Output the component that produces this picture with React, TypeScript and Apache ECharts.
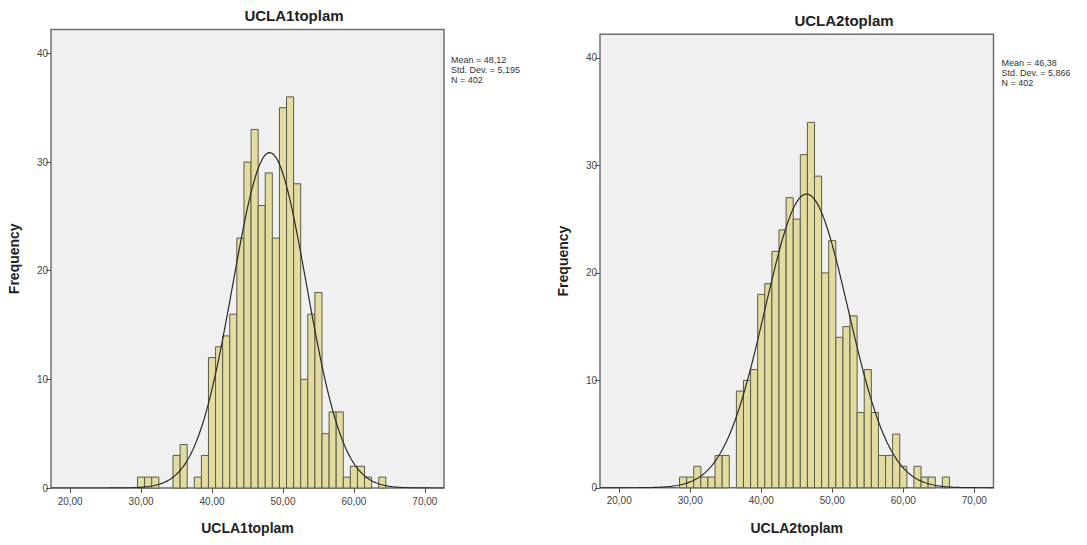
import { useEffect, useRef } from "react";
import * as echarts from "echarts";

// ---- Data ----
const bins1 = [30, 31, 32, 35, 36, 38, 39, 40, 41, 42, 43, 44, 45, 46, 47, 48, 49, 50, 51, 52, 53, 54, 55, 56, 57, 58, 59, 60, 61, 62, 64];
const counts1 = [1, 1, 1, 3, 4, 1, 3, 12, 13, 14, 16, 23, 30, 33, 26, 29, 23, 35, 36, 28, 10, 16, 18, 5, 7, 7, 1, 2, 2, 1, 1];

const bins2 = [29, 30, 31, 32, 33, 34, 35, 37, 38, 39, 40, 41, 42, 43, 44, 45, 46, 47, 48, 49, 50, 51, 52, 53, 54, 55, 56, 57, 58, 59, 60, 62, 63, 64, 66];
const counts2 = [1, 1, 2, 1, 1, 3, 3, 9, 10, 11, 18, 19, 22, 24, 27, 25, 31, 34, 29, 20, 23, 14, 15, 16, 7, 11, 7, 3, 3, 5, 2, 2, 1, 1, 1];

const titles = ["UCLA1toplam", "UCLA2toplam"];
const means = [48.12, 46.38];
const stdDevs = [5.195, 5.866];
const ns = [402, 402];
const meanLabels = ["48,12", "46,38"];
const stdLabels = ["5,195", "5,866"];

const xTicks = [20, 30, 40, 50, 60, 70];
const yTicks = [0, 10, 20, 30, 40];

const X_MIN = 17.3;
const X_MAX = 72.7;
const Y_MAX = 42.2;

// Fitted normal curve defined by the displayed Mean / Std. Dev. / N (bin width 1)
function normalCurve(mean: number, sd: number, n: number): number[][] {
  const pts: number[][] = [];
  for (let x = X_MIN; x <= X_MAX + 1e-9; x += 0.2) {
    const z = (x - mean) / sd;
    pts.push([x, (n / (sd * Math.sqrt(2 * Math.PI))) * Math.exp(-0.5 * z * z)]);
  }
  return pts;
}

const FONT = "'Liberation Sans', Arial, sans-serif";

export default function App() {
  const ref = useRef<HTMLDivElement>(null);

  useEffect(() => {
    if (!ref.current) return;
    const chart = echarts.init(ref.current, null, { renderer: "svg" });

    const grids = [
      { left: 51, top: 29.5, width: 393, height: 458.5 },
      { left: 600, top: 34.3, width: 393.5, height: 453.5 },
    ];

    const histData = [
      bins1.map((b, i) => [b, counts1[i]]),
      bins2.map((b, i) => [b, counts2[i]]),
    ];

    const option: any = {
      animation: false,
      backgroundColor: "#ffffff",
      textStyle: { fontFamily: FONT },
      grid: grids.map((g) => ({
        ...g,
        show: true,
        backgroundColor: "#f0f0f0",
        borderColor: "#6f6f6f",
        borderWidth: 1.5,
      })),
      xAxis: [0, 1].map((i) => ({
        type: "value",
        gridIndex: i,
        min: X_MIN,
        max: X_MAX,
        name: titles[i],
        nameLocation: "middle",
        nameGap: 33,
        nameTextStyle: { fontSize: 14, fontWeight: "bold", color: "#222", fontFamily: FONT },
        axisLine: { show: false },
        axisTick: { show: true, customValues: xTicks, length: 5, lineStyle: { color: "#555" } },
        axisLabel: {
          customValues: xTicks,
          fontSize: 10,
          color: "#444",
          margin: 8,
          fontFamily: FONT,
          formatter: (v: number) => v.toFixed(2).replace(".", ","),
        },
        splitLine: { show: false },
      })),
      yAxis: [0, 1].map((i) => ({
        type: "value",
        gridIndex: i,
        min: 0,
        max: Y_MAX,
        name: "Frequency",
        nameLocation: "middle",
        nameRotate: 90,
        nameGap: 30,
        nameTextStyle: { fontSize: 14, fontWeight: "bold", color: "#222", fontFamily: FONT },
        axisLine: { show: false },
        axisTick: { show: true, customValues: yTicks, length: 5, lineStyle: { color: "#555" } },
        axisLabel: { customValues: yTicks, fontSize: 10, color: "#444", margin: 3, fontFamily: FONT },
        splitLine: { show: false },
      })),
      series: [
        ...[0, 1].map((i) => ({
          type: "custom",
          xAxisIndex: i,
          yAxisIndex: i,
          data: histData[i],
          encode: { x: 0, y: 1 },
          renderItem: (_p: any, api: any) => {
            const v = api.value(0);
            const c = api.value(1);
            const p0 = api.coord([v - 0.5, c]);
            const p1 = api.coord([v + 0.5, 0]);
            return {
              type: "rect",
              shape: { x: p0[0], y: p0[1], width: p1[0] - p0[0], height: p1[1] - p0[1] },
              style: { fill: "#e3dca0", stroke: "#5c5b46", lineWidth: 1 },
            };
          },
        })),
        ...[0, 1].map((i) => ({
          type: "line",
          xAxisIndex: i,
          yAxisIndex: i,
          data: normalCurve(means[i], stdDevs[i], ns[i]),
          showSymbol: false,
          symbol: "none",
          lineStyle: { color: "#2a2a2a", width: 1.2 },
          z: 5,
        })),
      ],
      graphic: [
        {
          type: "text",
          x: 294,
          y: 15,
          style: { text: titles[0], align: "center", verticalAlign: "middle", font: `bold 15px ${FONT}`, fill: "#222" },
        },
        {
          type: "text",
          x: 844,
          y: 20.5,
          style: { text: titles[1], align: "center", verticalAlign: "middle", font: `bold 15px ${FONT}`, fill: "#222" },
        },
        {
          type: "text",
          x: 451,
          y: 55,
          style: {
            text: `Mean = ${meanLabels[0]}\nStd. Dev. = ${stdLabels[0]}\nN = ${ns[0]}`,
            font: `9px ${FONT}`,
            lineHeight: 10,
            fill: "#333",
            verticalAlign: "top",
          },
        },
        {
          type: "text",
          x: 1001.5,
          y: 57.5,
          style: {
            text: `Mean = ${meanLabels[1]}\nStd. Dev. = ${stdLabels[1]}\nN = ${ns[1]}`,
            font: `9px ${FONT}`,
            lineHeight: 10,
            fill: "#333",
            verticalAlign: "top",
          },
        },
      ],
    };

    chart.setOption(option);
    return () => chart.dispose();
  }, []);

  return (
    <div
      ref={ref}
      style={{ position: "absolute", left: 0, top: 0, width: 1087, height: 545 }}
    />
  );
}
